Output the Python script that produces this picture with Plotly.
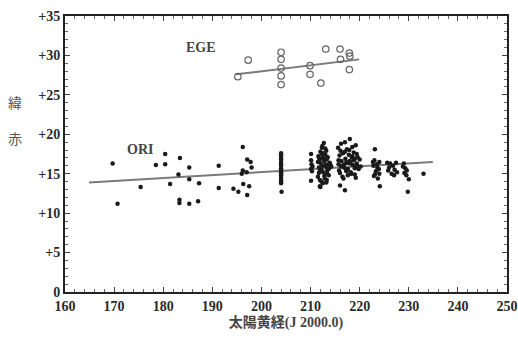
import plotly.graph_objects as go

# EGE (open circles)
ege_x = [195.2, 197.3, 204.0, 204.0, 204.0, 204.0, 204.0, 209.9, 209.9, 212.1, 213.1, 216.0, 216.1, 217.9, 218.0, 217.9]
ege_y = [27.3, 29.4, 30.4, 29.5, 28.4, 27.4, 26.3, 28.7, 27.6, 26.5, 30.8, 30.8, 29.5, 30.3, 29.9, 28.2]

# ORI (filled dots)
ori_x = [
    169.7, 170.7, 175.4, 178.5, 180.4, 180.4, 181.4, 183.4, 183.1, 183.3, 183.3, 185.3, 185.3, 185.3,
    187.3, 187.1, 191.3, 191.3, 194.3, 195.3, 196.2, 196.2, 196.0, 196.3, 197.1, 197.0, 197.1, 197.5,
    197.8, 198.0,
    204.0, 204.0, 204.0, 204.0, 204.0, 204.0, 204.0, 204.0, 204.0, 204.0, 204.0, 204.0, 204.0, 204.0,
    204.0, 204.0, 204.1,
    210.1, 210.1, 210.2, 210.1, 210.3, 210.1, 210.4,
    211.5, 211.6, 211.7, 211.8, 211.9, 211.5, 211.7, 211.9, 212.0, 212.1, 212.2, 212.3, 212.4, 212.5,
    212.6, 212.7, 212.8, 212.9, 213.0, 213.1, 213.2, 213.3, 213.4, 213.5, 213.6, 213.7, 213.8, 213.9,
    212.2, 212.6, 213.0, 213.4, 212.4, 212.8, 213.2, 213.6, 211.8, 212.0, 214.0, 214.2, 212.5, 213.0,
    213.3, 211.9, 212.3, 212.7,
    215.6, 215.7, 215.9, 216.0, 216.2, 216.3, 216.5, 216.6, 216.8, 217.0, 217.1, 217.3, 217.4, 217.6,
    217.8, 218.0, 218.1, 218.3, 218.5, 218.6, 218.8, 219.0, 219.2, 219.4, 219.6, 219.8, 220.0, 215.8,
    216.1, 216.4, 216.7, 217.0, 217.3, 217.6, 217.9, 218.2, 218.5, 218.8, 219.1, 219.4, 215.7, 216.2,
    216.9, 217.5, 218.0, 218.4, 219.0, 219.5, 218.0, 217.2, 219.0, 216.0, 217.0, 219.2, 220.2,
    222.7, 222.8, 223.0, 223.1, 223.1, 223.3, 223.5, 223.7, 223.9, 224.0, 224.1, 224.0, 222.9, 223.6,
    225.6, 225.8, 226.2, 226.5, 226.8, 227.1, 227.4, 227.6, 226.0, 227.0,
    228.8, 229.0, 229.1, 229.3, 229.5, 229.6, 230.0, 229.8,
    233.0,
]
ori_y = [
    16.3, 11.2, 13.3, 16.1, 17.5, 16.2, 13.7, 17.0, 14.9, 11.7, 11.3, 15.8, 14.3, 11.2,
    13.8, 11.5, 16.0, 13.2, 13.1, 12.7, 18.4, 15.4, 15.0, 13.7, 12.3, 15.2, 16.8, 13.4,
    16.5, 15.8,
    17.6, 17.3, 17.0, 16.8, 16.5, 16.2, 16.0, 15.7, 15.5, 15.2, 15.0, 14.8, 14.5, 14.2,
    14.0, 13.8, 12.7,
    17.5, 16.7, 16.2, 15.6, 15.3, 14.1, 15.9,
    16.5, 17.2, 15.8, 16.9, 13.4, 14.6, 15.1, 14.2, 17.8, 16.3, 15.5, 18.3, 16.0, 17.0,
    15.2, 18.9, 16.6, 14.4, 17.4, 15.9, 13.9, 16.8, 15.4, 17.1, 16.2, 14.8, 15.7, 16.4,
    14.0, 17.6, 16.1, 15.0, 18.5, 14.7, 17.9, 15.6, 16.7, 13.3, 16.2, 15.9, 13.8, 18.2,
    14.2, 15.3, 17.5, 16.9,
    18.3, 16.2, 17.3, 15.1, 18.8, 16.6, 14.6, 17.6, 15.8, 19.0, 16.9, 15.3, 18.1, 14.8,
    17.4, 19.4, 16.4, 15.0, 18.4, 16.1, 17.7, 14.9, 18.6, 16.3, 17.1, 15.6, 16.8, 15.4,
    17.9, 16.0, 14.4, 17.8, 16.5, 15.6, 18.0, 15.2, 17.2, 16.7, 15.8, 17.5, 16.7, 15.9,
    16.2, 16.4, 16.6, 17.1, 15.7, 16.0, 16.3, 15.5, 16.9, 13.5, 12.9, 14.5, 15.9, 16.5,
    16.0, 16.7, 14.9, 18.1, 15.3, 16.2, 14.4, 15.6, 16.5, 13.4, 15.0, 14.7, 15.8, 16.4,
    15.4, 16.3, 15.0, 16.0, 15.5, 16.4, 15.2, 15.8, 14.8, 15.9,
    16.3, 15.1, 15.7, 14.8, 15.4, 14.3, 12.7, 15.0,
    15.8,
]

# trend lines (endpoints)
ege_line_x = [194.8, 219.9]
ege_line_y = [27.6, 29.5]
ori_line_x = [164.9, 234.9]
ori_line_y = [13.9, 16.5]

x_ticks = [160, 170, 180, 190, 200, 210, 220, 230, 240, 250]
y_ticks = [0, 5, 10, 15, 20, 25, 30, 35]
y_tick_labels = ["0", "+5", "+10", "+15", "+20", "+25", "+30", "+35"]

serif = "Liberation Serif, Noto Sans CJK JP"
ink = "#2a2a2a"

fig = go.Figure()
fig.add_trace(go.Scatter(x=ori_line_x, y=ori_line_y, mode="lines",
                         line=dict(color="#7a7a7a", width=2), showlegend=False))
fig.add_trace(go.Scatter(x=ege_line_x, y=ege_line_y, mode="lines",
                         line=dict(color="#7a7a7a", width=2), showlegend=False))
fig.add_trace(go.Scatter(x=ori_x, y=ori_y, mode="markers",
                         marker=dict(symbol="circle", size=4.5, color="#1a1a1a"), showlegend=False))
fig.add_trace(go.Scatter(x=ege_x, y=ege_y, mode="markers",
                         marker=dict(symbol="circle-open", size=6.5, color="#666666",
                                     line=dict(width=1.2, color="#666666")), showlegend=False))

axis_common = dict(showline=True, linecolor="#222222", linewidth=2, mirror="allticks",
                   ticks="inside", ticklen=5, tickwidth=1, tickcolor="#444444",
                   showgrid=False, zeroline=False, automargin=False,
                   tickfont=dict(family=serif, size=14, color=ink, weight="bold"))

fig.update_xaxes(range=[160, 250], tickvals=x_ticks, **axis_common,
                 minor=dict(dtick=2, ticks="inside", ticklen=3, tickcolor="#666666", showgrid=False),
                 title=dict(text="<b>太陽黄経(J 2000.0)</b>", font=dict(family=serif, size=14, color="#444444"),
                            standoff=3))
fig.update_yaxes(range=[0, 35], tickvals=y_ticks, ticktext=y_tick_labels, **axis_common,
                 minor=dict(dtick=1, ticks="inside", ticklen=3, tickcolor="#666666", showgrid=False))

fig.add_annotation(x=187.6, y=31.0, text="<b>EGE</b>", showarrow=False,
                   font=dict(family=serif, size=14, color="#444444"))
fig.add_annotation(x=175.3, y=18.1, text="<b>ORI</b>", showarrow=False,
                   font=dict(family=serif, size=14, color="#444444"))
fig.add_annotation(xref="paper", yref="paper", x=-0.113, y=0.623, text="緯<br><br>赤",
                   showarrow=False, font=dict(family="Noto Sans CJK JP", size=14, color="#555555"),
                   xanchor="center", yanchor="middle")

fig.update_layout(width=518, height=337, margin=dict(l=65, r=11, t=16, b=45),
                  paper_bgcolor="white", plot_bgcolor="white")
fig.write_html("out.html", config={"displayModeBar": False, "responsive": False},
               post_script="document.body.style.margin='0';document.body.style.overflow='hidden';")
